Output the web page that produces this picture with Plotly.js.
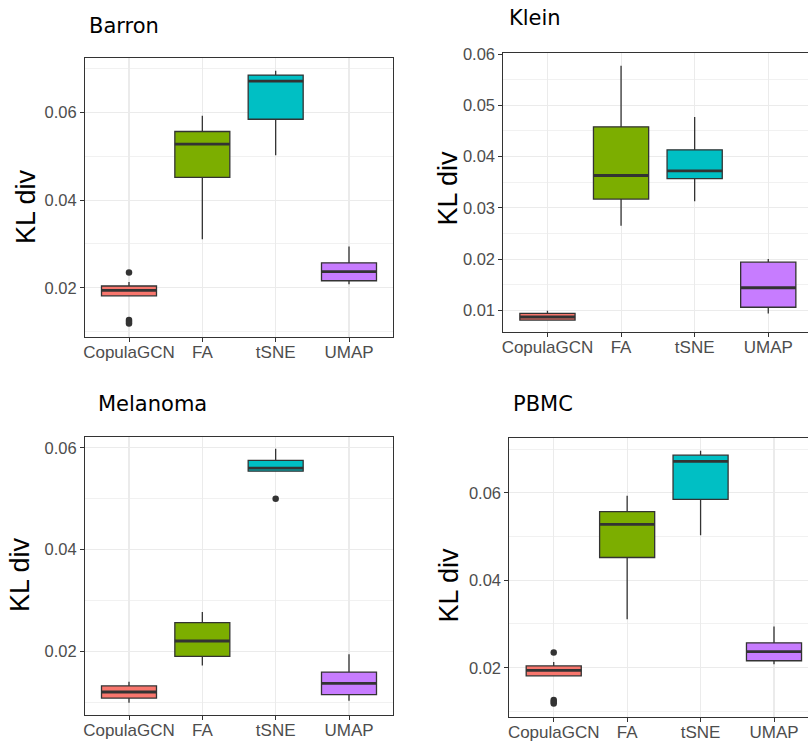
<!DOCTYPE html>
<html>
<head>
<meta charset="utf-8">
<script src="https://cdn.plot.ly/plotly-3.0.1.min.js"></script>
<style>html,body{margin:0;padding:0;background:#fff;}#chart{width:808px;height:742px;}</style>
</head>
<body>
<div id="chart"></div>
<script>
// ---- data ----
const categories = ['CopulaGCN', 'FA', 'tSNE', 'UMAP'];
const boxColors = ['#F8766D', '#7CAE00', '#00BFC4', '#C77CFF'];

// Barron
const barronLow    = [0.0181, 0.0311, 0.0503, 0.0208];
const barronQ1     = [0.01815, 0.0452, 0.0585, 0.0216];
const barronMedian = [0.0194, 0.0528, 0.0672, 0.0237];
const barronQ3     = [0.0204, 0.0557, 0.0686, 0.0257];
const barronHigh   = [0.0213, 0.0593, 0.0696, 0.0294];
const barronOutCat = [0, 0, 0, 0];
const barronOutVal = [0.0235, 0.0126, 0.0122, 0.0118];

// Klein
const kleinLow    = [0.0080, 0.0265, 0.0313, 0.0094];
const kleinQ1     = [0.0081, 0.0317, 0.0357, 0.0106];
const kleinMedian = [0.0087, 0.0363, 0.0372, 0.0144];
const kleinQ3     = [0.0094, 0.0458, 0.0413, 0.0194];
const kleinHigh   = [0.0099, 0.0577, 0.0477, 0.0200];
const kleinOutCat = [];
const kleinOutVal = [];

// Melanoma
const melanomaLow    = [0.0100, 0.0173, 0.0553, 0.0104];
const melanomaQ1     = [0.0109, 0.0191, 0.0554, 0.0116];
const melanomaMedian = [0.0121, 0.0221, 0.0560, 0.0138];
const melanomaQ3     = [0.0133, 0.0257, 0.0575, 0.0160];
const melanomaHigh   = [0.0141, 0.0278, 0.0598, 0.0195];
const melanomaOutCat = [2];
const melanomaOutVal = [0.0500];

// PBMC
const pbmcLow    = [0.0181, 0.0311, 0.0503, 0.0208];
const pbmcQ1     = [0.01815, 0.0452, 0.0585, 0.0216];
const pbmcMedian = [0.0194, 0.0528, 0.0672, 0.0237];
const pbmcQ3     = [0.0204, 0.0557, 0.0686, 0.0257];
const pbmcHigh   = [0.0213, 0.0593, 0.0696, 0.0294];
const pbmcOutCat = [0, 0, 0, 0];
const pbmcOutVal = [0.0235, 0.0126, 0.0122, 0.0118];

const panelTitles = ['Barron', 'Klein', 'Melanoma', 'PBMC'];
const yLabel = 'KL div';

// ---- layout helpers ----
const W = 808, H = 742;
const panels = [
  {name: panelTitles[0], low: barronLow, q1: barronQ1, med: barronMedian, q3: barronQ3, high: barronHigh, oc: barronOutCat, ov: barronOutVal,
   px: [85, 393], py: [58, 337], xr: [-0.6, 3.6], yr: [0.00874, 0.0725], dtick: 0.02, minor: 0.01, mirrorY: true,
   title: [87, 26], ylab: [26, 207]},
  {name: panelTitles[1], low: kleinLow, q1: kleinQ1, med: kleinMedian, q3: kleinQ3, high: kleinHigh, oc: kleinOutCat, ov: kleinOutVal,
   px: [503.3, 808], py: [53.3, 332], xr: [-0.6, 3.54], yr: [0.00577, 0.06014], dtick: 0.01, minor: 0.005, mirrorY: false,
   title: [506.5, 18], ylab: [447.5, 188]},
  {name: panelTitles[2], low: melanomaLow, q1: melanomaQ1, med: melanomaMedian, q3: melanomaQ3, high: melanomaHigh, oc: melanomaOutCat, ov: melanomaOutVal,
   px: [85, 393], py: [436.7, 715], xr: [-0.6, 3.6], yr: [0.00759, 0.06216], dtick: 0.02, minor: 0.01, mirrorY: true,
   title: [95.5, 404], ylab: [20, 575]},
  {name: panelTitles[3], low: pbmcLow, q1: pbmcQ1, med: pbmcMedian, q3: pbmcQ3, high: pbmcHigh, oc: pbmcOutCat, ov: pbmcOutVal,
   px: [509.3, 808], py: [437.7, 716.7], xr: [-0.605, 3.463], yr: [0.0088, 0.0726], dtick: 0.02, minor: 0.01, mirrorY: false,
   title: [511, 403.5], ylab: [448.5, 585]}
];

const BOXW = 0.75;
const traces = [];
const layout = {
  width: W, height: H,
  margin: {l: 0, r: 0, t: 0, b: 0},
  paper_bgcolor: '#ffffff', plot_bgcolor: '#ffffff',
  showlegend: false, boxmode: 'overlay',
  annotations: []
};

panels.forEach((p, k) => {
  const sfx = k === 0 ? '' : String(k + 1);
  const xa = 'x' + sfx, ya = 'y' + sfx;
  categories.forEach((c, i) => {
    traces.push({
      type: 'box', x: [i], q1: [p.q1[i]], median: [p.med[i]], q3: [p.q3[i]],
      lowerfence: [p.low[i]], upperfence: [p.high[i]],
      width: BOXW, whiskerwidth: 0, boxpoints: false,
      fillcolor: boxColors[i], line: {color: '#333333', width: 1.3},
      xaxis: xa, yaxis: ya, hoverinfo: 'skip', name: c
    });
  });
  // thick median lines (ggplot style)
  const mx = [], my = [];
  categories.forEach((c, i) => {
    mx.push(i - BOXW / 2, i + BOXW / 2, null);
    my.push(p.med[i], p.med[i], null);
  });
  traces.push({type: 'scatter', mode: 'lines', x: mx, y: my, line: {color: '#333333', width: 2.8},
    xaxis: xa, yaxis: ya, hoverinfo: 'skip'});
  if (p.ov.length) {
    traces.push({type: 'scatter', mode: 'markers', x: p.oc, y: p.ov,
      marker: {color: '#333333', size: 6.5}, xaxis: xa, yaxis: ya, hoverinfo: 'skip'});
  }
  layout['xaxis' + sfx] = {
    domain: [p.px[0] / W, p.px[1] / W], anchor: ya, range: p.xr, type: 'linear',
    tickmode: 'array', tickvals: [0, 1, 2, 3], ticktext: categories,
    showgrid: true, gridcolor: '#ebebeb', gridwidth: 1.1, zeroline: false,
    showline: true, linecolor: '#333333', linewidth: 1, mirror: true,
    ticks: 'outside', ticklen: 4, tickcolor: '#333333', tickwidth: 1,
    ticklabelstandoff: -4,
    tickfont: {family: 'Liberation Sans, Arial, sans-serif', size: 17, color: '#4D4D4D'},
    fixedrange: true
  };
  layout['yaxis' + sfx] = {
    domain: [1 - p.py[1] / H, 1 - p.py[0] / H], anchor: xa, range: p.yr,
    tick0: 0, dtick: p.dtick, tickformat: '.2f',
    showgrid: true, gridcolor: '#ebebeb', gridwidth: 1.1, zeroline: false,
    minor: {tick0: 0, dtick: p.minor, showgrid: true, gridcolor: '#ededed', gridwidth: 0.8, ticks: ''},
    showline: true, linecolor: '#333333', linewidth: 1, mirror: p.mirrorY,
    ticks: 'outside', ticklen: 4, tickcolor: '#333333', tickwidth: 1,
    tickfont: {family: 'Liberation Sans, Arial, sans-serif', size: 16.5, color: '#4D4D4D'},
    fixedrange: true
  };
  layout.annotations.push({
    xref: 'paper', yref: 'paper', x: p.title[0] / W, y: 1 - p.title[1] / H,
    xanchor: 'left', yanchor: 'middle', showarrow: false, text: p.name,
    font: {family: 'DejaVu Sans, Verdana, sans-serif', size: 21, color: '#000000'}
  });
  layout.annotations.push({
    xref: 'paper', yref: 'paper', x: p.ylab[0] / W, y: 1 - p.ylab[1] / H,
    xanchor: 'center', yanchor: 'middle', showarrow: false, text: yLabel, textangle: -90,
    font: {family: 'Liberation Sans, Arial, sans-serif', size: 27, color: '#000000'}
  });
});

Plotly.newPlot('chart', traces, layout, {displayModeBar: false, staticPlot: true});
</script>
</body>
</html>
